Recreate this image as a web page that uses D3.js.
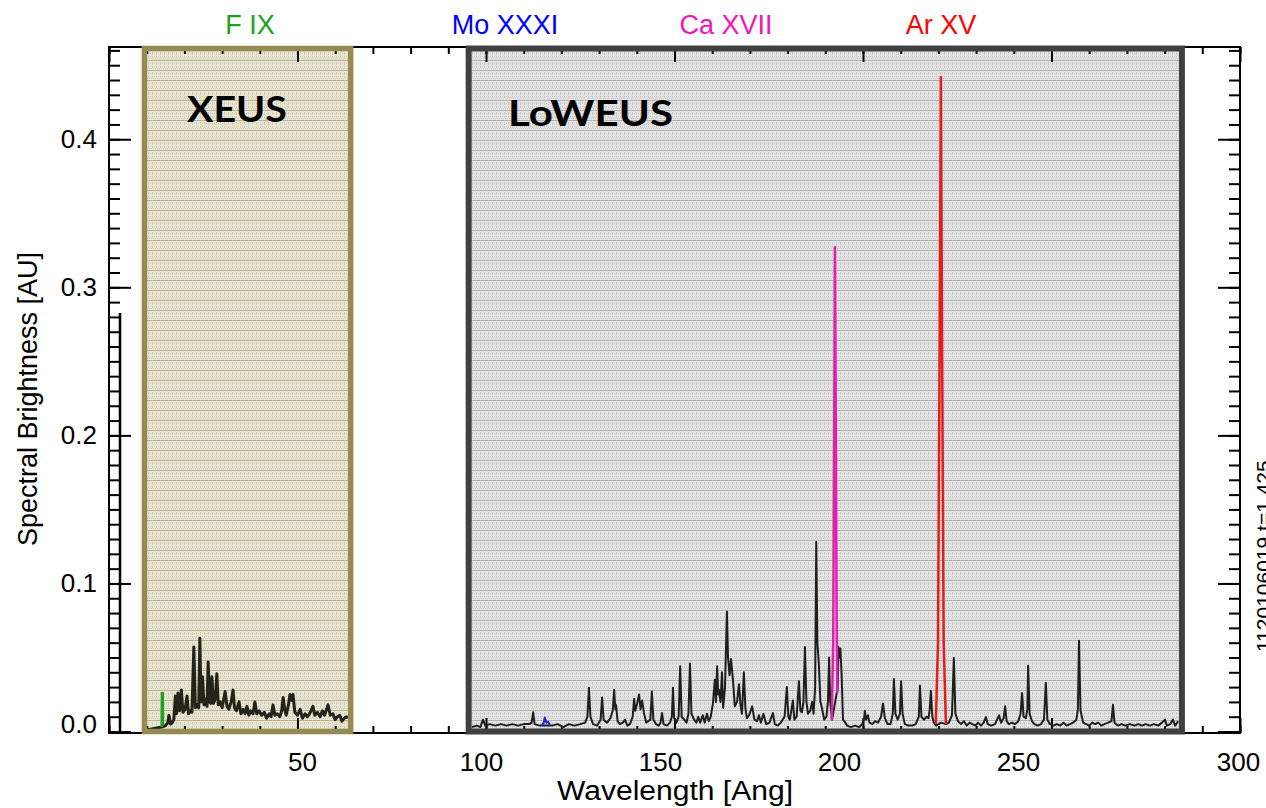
<!DOCTYPE html>
<html>
<head>
<meta charset="utf-8">
<script src="https://cdn.jsdelivr.net/npm/d3@7"></script>
<style>
body { margin: 0; background: #fff; }
svg text { font-family: "Liberation Sans", Arial, sans-serif; }
</style>
</head>
<body>
<svg id="chart" width="1266" height="808"></svg>
<script>
// XEUS spectrum (wavelength in Ang, brightness in AU)
const xeusWave = [10.0, 12.0, 14.0, 15.0, 15.6, 15.9, 16.3, 16.8, 17.2, 17.6, 17.9, 18.3, 18.7, 19.2, 19.6, 20.2, 20.7, 21.1, 21.6, 22.0,
  22.5, 22.9, 23.4, 23.8, 24.1, 24.4, 24.8, 25.2, 25.6, 26.0, 26.3, 26.7, 27.0, 27.3, 27.7, 28.2, 28.6, 29.0, 29.5, 30.0,
  30.8, 31.3, 31.8, 32.4, 32.9, 33.3, 33.8, 34.5, 35.0, 35.6, 36.1, 36.6, 37.1, 37.6, 38.2, 38.7, 39.2, 39.8, 40.5, 41.2,
  41.8, 42.5, 43.0, 43.5, 44.0, 44.6, 45.3, 45.8, 46.2, 46.6, 47.0, 47.6, 48.0, 48.5, 48.8, 49.3, 50.0, 50.7, 51.3, 52.0,
  52.6, 53.2, 54.1, 54.6, 55.3, 56.0, 56.6, 57.2, 58.1, 58.7, 59.4, 60.0, 60.6, 61.2, 61.8, 62.4, 63.0, 63.4];
const xeusVal = [0.001, 0.002, 0.003, 0.004, 0.006, 0.011, 0.005, 0.006, 0.008, 0.024, 0.012, 0.026, 0.014, 0.028, 0.013, 0.015, 0.024, 0.012, 0.014, 0.013,
  0.057, 0.016, 0.018, 0.016, 0.063, 0.020, 0.037, 0.018, 0.022, 0.017, 0.047, 0.020, 0.019, 0.037, 0.019, 0.022, 0.039, 0.018, 0.020, 0.016,
  0.027, 0.017, 0.015, 0.020, 0.028, 0.016, 0.014, 0.020, 0.012, 0.015, 0.012, 0.017, 0.011, 0.014, 0.012, 0.020, 0.012, 0.014, 0.011, 0.013,
  0.009, 0.012, 0.010, 0.018, 0.011, 0.012, 0.010, 0.014, 0.023, 0.015, 0.011, 0.018, 0.025, 0.021, 0.025, 0.013, 0.011, 0.015, 0.009, 0.012,
  0.010, 0.012, 0.017, 0.011, 0.013, 0.010, 0.014, 0.011, 0.018, 0.011, 0.012, 0.008, 0.010, 0.011, 0.007, 0.009, 0.010, 0.009];

// LoWEUS spectrum
const loweusWave = [96.3, 97.6, 98.5, 99.2, 99.8, 101.0, 102.5, 104.0, 105.5, 107.0, 108.5, 110.0, 111.5, 112.1, 112.5, 112.9, 114.2, 115.9, 117.5, 119.0,
  120.5, 122.0, 123.5, 125.0, 126.3, 126.9, 127.3, 127.7, 128.4, 129.5, 130.4, 130.8, 131.2, 132.1, 133.0, 133.6, 134.0, 134.3, 134.5, 134.9,
  135.5, 136.3, 136.9, 137.5, 138.2, 138.9, 139.3, 139.6, 140.1, 140.6, 141.0, 141.4, 141.9, 142.5, 143.6, 144.0, 144.4, 145.1, 145.8, 146.3,
  146.7, 147.1, 148.0, 148.8, 149.3, 149.6, 149.9, 150.5, 151.1, 151.5, 151.9, 152.6, 153.2, 153.7, 154.1, 154.5, 155.2, 155.8, 156.3, 156.8,
  157.5, 158.0, 158.6, 159.1, 159.6, 160.2, 160.7, 161.0, 161.3, 161.6, 161.8, 162.2, 162.6, 162.9, 163.4, 163.9, 164.2, 164.6, 165.0, 165.5,
  166.0, 166.6, 167.1, 167.5, 167.9, 168.4, 168.8, 169.2, 169.8, 170.6, 171.2, 171.9, 172.4, 172.9, 173.6, 174.3, 175.2, 176.1, 176.6, 177.4,
  178.2, 179.2, 179.8, 180.2, 180.6, 181.4, 181.8, 182.4, 183.0, 183.4, 183.8, 184.2, 184.6, 185.0, 185.4, 186.0, 186.5, 186.9, 187.3, 187.6,
  187.9, 188.3, 188.7, 189.1, 189.7, 190.3, 190.7, 191.0, 191.3, 191.8, 193.3, 193.5, 193.8, 194.0, 194.3, 194.7, 195.3, 195.8, 196.8, 197.9,
  199.0, 199.8, 200.3, 200.5, 200.8, 201.3, 201.7, 202.5, 203.2, 204.0, 204.8, 205.3, 205.8, 206.5, 207.3, 207.9, 208.2, 208.6, 209.2, 209.8,
  210.1, 210.5, 211.1, 212.0, 213.0, 214.0, 214.8, 215.1, 215.5, 216.2, 216.9, 217.4, 217.7, 218.0, 218.4, 218.8, 219.4, 220.7, 222.0, 222.8,
  223.6, 224.1, 224.5, 225.2, 226.0, 226.8, 227.5, 228.3, 229.0, 229.8, 230.5, 231.3, 232.0, 232.6, 233.1, 234.0, 235.0, 236.1, 236.6, 237.3,
  237.7, 238.1, 238.7, 239.5, 240.3, 241.2, 241.8, 242.2, 242.6, 243.2, 243.6, 243.8, 244.2, 244.8, 245.5, 246.3, 247.2, 248.0, 248.5, 248.9,
  249.6, 250.5, 251.4, 252.3, 253.2, 254.0, 254.9, 255.7, 256.6, 257.0, 257.3, 257.7, 258.4, 259.2, 260.0, 260.8, 261.6, 262.4, 263.2, 264.0,
  265.0, 265.9, 266.3, 266.7, 267.6, 268.6, 269.6, 270.8, 272.0, 273.0, 274.0, 275.0, 276.1, 277.2, 278.3, 279.3, 280.1, 280.6, 281.5, 282.2,
  282.8, 283.6];
const loweusVal = [0.003, 0.004, 0.003, 0.008, 0.004, 0.005, 0.004, 0.005, 0.004, 0.005, 0.004, 0.005, 0.005, 0.006, 0.013, 0.005, 0.004, 0.004, 0.004, 0.005,
  0.003, 0.005, 0.004, 0.005, 0.006, 0.010, 0.0295, 0.010, 0.005, 0.004, 0.008, 0.023, 0.008, 0.006, 0.009, 0.014, 0.028, 0.015, 0.018, 0.007,
  0.005, 0.006, 0.008, 0.004, 0.005, 0.010, 0.022, 0.014, 0.019, 0.025, 0.015, 0.021, 0.0125, 0.006, 0.008, 0.027, 0.008, 0.005, 0.004, 0.006,
  0.0125, 0.005, 0.004, 0.006, 0.010, 0.0295, 0.009, 0.006, 0.010, 0.044, 0.010, 0.008, 0.006, 0.012, 0.046, 0.012, 0.008, 0.006, 0.010, 0.006,
  0.011, 0.006, 0.012, 0.007, 0.010, 0.019, 0.035, 0.020, 0.044, 0.025, 0.028, 0.020, 0.040, 0.016, 0.030, 0.081, 0.050, 0.038, 0.049, 0.035,
  0.017, 0.020, 0.032, 0.018, 0.012, 0.040, 0.016, 0.009, 0.011, 0.017, 0.008, 0.007, 0.011, 0.006, 0.012, 0.005, 0.006, 0.0125, 0.005, 0.004,
  0.006, 0.010, 0.030, 0.010, 0.008, 0.021, 0.008, 0.010, 0.034, 0.014, 0.013, 0.020, 0.057, 0.020, 0.012, 0.014, 0.020, 0.012, 0.030, 0.128,
  0.060, 0.045, 0.020, 0.016, 0.008, 0.010, 0.020, 0.050, 0.020, 0.008, 0.030, 0.057, 0.050, 0.056, 0.040, 0.008, 0.006, 0.004, 0.003, 0.004,
  0.003, 0.005, 0.009, 0.014, 0.008, 0.011, 0.006, 0.005, 0.007, 0.006, 0.010, 0.019, 0.009, 0.005, 0.005, 0.012, 0.0355, 0.012, 0.008, 0.012,
  0.034, 0.012, 0.005, 0.004, 0.004, 0.005, 0.010, 0.031, 0.010, 0.008, 0.010, 0.009, 0.015, 0.0275, 0.010, 0.006, 0.004, 0.006, 0.005, 0.006,
  0.011, 0.0497, 0.012, 0.007, 0.005, 0.007, 0.004, 0.006, 0.005, 0.004, 0.006, 0.004, 0.006, 0.0097, 0.005, 0.004, 0.005, 0.011, 0.006, 0.009,
  0.017, 0.007, 0.005, 0.006, 0.005, 0.007, 0.012, 0.026, 0.010, 0.009, 0.015, 0.0445, 0.012, 0.007, 0.005, 0.004, 0.005, 0.008, 0.033, 0.008,
  0.005, 0.004, 0.005, 0.004, 0.006, 0.004, 0.005, 0.006, 0.008, 0.015, 0.0613, 0.014, 0.006, 0.005, 0.004, 0.006, 0.005, 0.006, 0.004, 0.005,
  0.006, 0.007, 0.018, 0.006, 0.004, 0.005, 0.004, 0.005, 0.004, 0.005, 0.004, 0.005, 0.004, 0.005, 0.004, 0.006, 0.008, 0.004, 0.005, 0.008,
  0.004, 0.007];

// highlighted lines
const fixWave = [14.0, 14.05, 14.25, 14.3];
const fixVal = [0.003, 0.026, 0.026, 0.004];
const moWave = [114.8, 115.3, 115.6, 116.0, 116.5, 117.0];
const moVal = [0.004, 0.006, 0.0095, 0.006, 0.0065, 0.004];
const caWave = [191.7, 192.1, 192.35, 192.55, 192.8, 193.0, 193.2];
const caVal = [0.008, 0.06, 0.2, 0.327, 0.2, 0.08, 0.026];
const arWave = [219.3, 219.9, 220.3, 220.65, 221.0, 221.4, 222.0];
const arVal = [0.005, 0.06, 0.25, 0.442, 0.25, 0.06, 0.005];

const lineNames = ['F IX', 'Mo XXXI', 'Ca XVII', 'Ar XV'];
const lineColors = ['#20a020', '#0000ff', '#f414b8', '#ff0000'];
const lineLabelX = [250, 505, 726, 941];

const xTickLabels = [50, 100, 150, 200, 250, 300];
const yTickLabels = [0, 0.1, 0.2, 0.3, 0.4];

// instrument ranges (Ang)
const xeusRange = [9.4, 64.1];
const loweusRange = [95.4, 284.6];

const svg = d3.select('#chart');
const W = 1266, H = 808;
const m = {left: 109, right: 1240, top: 47, bottom: 733};

const x = d3.scaleLinear().domain([0, 300]).range([m.left, m.right]);
const y = d3.scaleLinear().domain([-0.001, 0.4623]).range([m.bottom, m.top]);
// tick labels sit a bit off the tick marks in the original
const xLab = d3.scaleLinear().domain([50, 250, 300]).range([302, 1018, 1238]);

svg.append('rect').attr('width', W).attr('height', H).attr('fill', '#fff');

// textured fills
const defs = svg.append('defs');
function makePattern(id, bg, dot, stripe) {
    const p = defs.append('pattern').attr('id', id)
        .attr('patternUnits', 'userSpaceOnUse').attr('width', 4).attr('height', 10);
    p.append('rect').attr('width', 4).attr('height', 10).attr('fill', bg);
    p.append('rect').attr('y', 0).attr('width', 4).attr('height', 1).attr('fill', stripe);
    [[0, 3], [2, 3], [0, 6], [2, 6], [1, 8], [3, 8], [0, 2], [0, 4], [0, 7]].forEach(d => {
        p.append('rect').attr('x', d[0]).attr('y', d[1]).attr('width', 1).attr('height', 1).attr('fill', dot);
    });
}
makePattern('pLow', '#e4e4e4', '#cacaca', '#b2b2b2');
makePattern('pX', '#e9e6d6', '#d3cdb3', '#bbb28e');

const boxTop = 48.5, boxBottom = 731.5;
svg.append('rect')
    .attr('x', x(xeusRange[0])).attr('y', boxTop)
    .attr('width', x(xeusRange[1]) - x(xeusRange[0])).attr('height', boxBottom - boxTop)
    .attr('fill', 'url(#pX)');
svg.append('rect')
    .attr('x', x(loweusRange[0])).attr('y', boxTop)
    .attr('width', x(loweusRange[1]) - x(loweusRange[0])).attr('height', boxBottom - boxTop)
    .attr('fill', 'url(#pLow)');

// axes, ticks pointing inward
const xMinor = d3.range(0, 301, 10);
const yMinor = d3.range(0, 0.461, 0.01);

function tickAxis(axis, vals, size, tr) {
    const g = svg.append('g').attr('transform', tr)
        .call(axis.tickValues(vals).tickSize(size).tickFormat(''));
    g.select('.domain').remove();
    g.selectAll('line').attr('stroke', '#000').attr('stroke-width', 2);
    return g;
}
tickAxis(d3.axisBottom(x), xMinor, -7, `translate(0,${m.bottom})`);
tickAxis(d3.axisBottom(x), xTickLabels.concat([0]), -15, `translate(0,${m.bottom})`);
tickAxis(d3.axisTop(x), xMinor, -7, `translate(0,${m.top})`);
tickAxis(d3.axisTop(x), xTickLabels.concat([0]), -15, `translate(0,${m.top})`);
tickAxis(d3.axisLeft(y), yMinor, -11, `translate(${m.left},0)`);
tickAxis(d3.axisLeft(y), yTickLabels, -22, `translate(${m.left},0)`);
tickAxis(d3.axisRight(y), yMinor, -11, `translate(${m.right},0)`);
tickAxis(d3.axisRight(y), yTickLabels, -22, `translate(${m.right},0)`);

// tick labels
const gxl = svg.append('g').attr('transform', `translate(0,${m.bottom})`)
    .call(d3.axisBottom(xLab).tickValues(xTickLabels).tickSize(0).tickPadding(20));
gxl.select('.domain').remove();
gxl.selectAll('text').attr('font-size', 26).attr('fill', '#000')
    .style('font-family', '"Liberation Sans", Arial, sans-serif');

const gyl = svg.append('g').attr('transform', `translate(${m.left},0)`)
    .call(d3.axisLeft(y).tickValues(yTickLabels).tickSize(0).tickPadding(12).tickFormat(d3.format('.1f')));
gyl.select('.domain').remove();
gyl.selectAll('text').attr('font-size', 26).attr('fill', '#000')
    .style('font-family', '"Liberation Sans", Arial, sans-serif')
    .filter(d => d === 0).attr('dy', '0.02em');

// frame
svg.append('rect').attr('x', m.left).attr('y', m.top).attr('width', m.right - m.left).attr('height', m.bottom - m.top)
    .attr('fill', 'none').attr('stroke', '#000').attr('stroke-width', 2);
// stray axis line left over in the original
svg.append('line').attr('x1', 120).attr('x2', 120).attr('y1', 313).attr('y2', m.bottom - 2)
    .attr('stroke', '#000').attr('stroke-width', 2.5);

// spectra
const line = d3.line().x(d => x(d[0])).y(d => y(d[1]));
function drawSpec(wave, val, color, width) {
    svg.append('path')
        .datum(d3.zip(wave, val))
        .attr('fill', 'none')
        .attr('stroke', color)
        .attr('stroke-width', width)
        .attr('stroke-linejoin', 'round')
        .attr('d', line);
}
drawSpec(xeusWave, xeusVal, '#23231a', 3);
drawSpec(loweusWave, loweusVal, '#1e1e1e', 2);
drawSpec(fixWave, fixVal, lineColors[0], 2.5);
drawSpec(moWave, moVal, '#2020e0', 2);
drawSpec(caWave, caVal, '#e020b0', 2.5);
drawSpec(arWave, arVal, '#e41c1c', 2.5);

// box borders
svg.append('rect')
    .attr('x', x(xeusRange[0])).attr('y', boxTop)
    .attr('width', x(xeusRange[1]) - x(xeusRange[0])).attr('height', boxBottom - boxTop)
    .attr('fill', 'none').attr('stroke', '#948a54').attr('stroke-width', 5.5);
svg.append('rect')
    .attr('x', x(loweusRange[0])).attr('y', boxTop)
    .attr('width', x(loweusRange[1]) - x(loweusRange[0])).attr('height', boxBottom - boxTop)
    .attr('fill', 'none').attr('stroke', '#404040').attr('stroke-width', 6);

// box labels
svg.append('text').attr('x', 187).attr('y', 122)
    .attr('textLength', 100).attr('lengthAdjust', 'spacingAndGlyphs')
    .style('font-family', 'Lato, "Open Sans", sans-serif').style('font-weight', 'bold')
    .attr('font-size', 36).text('XEUS');
svg.append('text').attr('x', 508).attr('y', 126)
    .attr('textLength', 165).attr('lengthAdjust', 'spacingAndGlyphs')
    .style('font-family', 'Lato, "Open Sans", sans-serif').style('font-weight', 'bold')
    .attr('font-size', 36).text('LoWEUS');

// line names above the plot
svg.selectAll('.lname').data(lineNames).enter().append('text')
    .attr('class', 'lname')
    .attr('x', (d, i) => lineLabelX[i]).attr('y', 34)
    .attr('text-anchor', 'middle').attr('font-size', 27)
    .attr('fill', (d, i) => lineColors[i])
    .text(d => d);

// axis titles
svg.append('text').attr('x', 675).attr('y', 800).attr('text-anchor', 'middle')
    .attr('font-size', 27).attr('textLength', 236).attr('lengthAdjust', 'spacingAndGlyphs')
    .text('Wavelength [Ang]');
svg.append('text').attr('transform', 'translate(37,399) rotate(-90)').attr('text-anchor', 'middle')
    .attr('font-size', 27).text('Spectral Brightness [AU]');

// shot label, cut by the right edge
svg.append('text').attr('transform', 'translate(1271,652) rotate(-90)')
    .attr('font-size', 21).text('1120106019   t=1.425');
</script>
</body>
</html>
